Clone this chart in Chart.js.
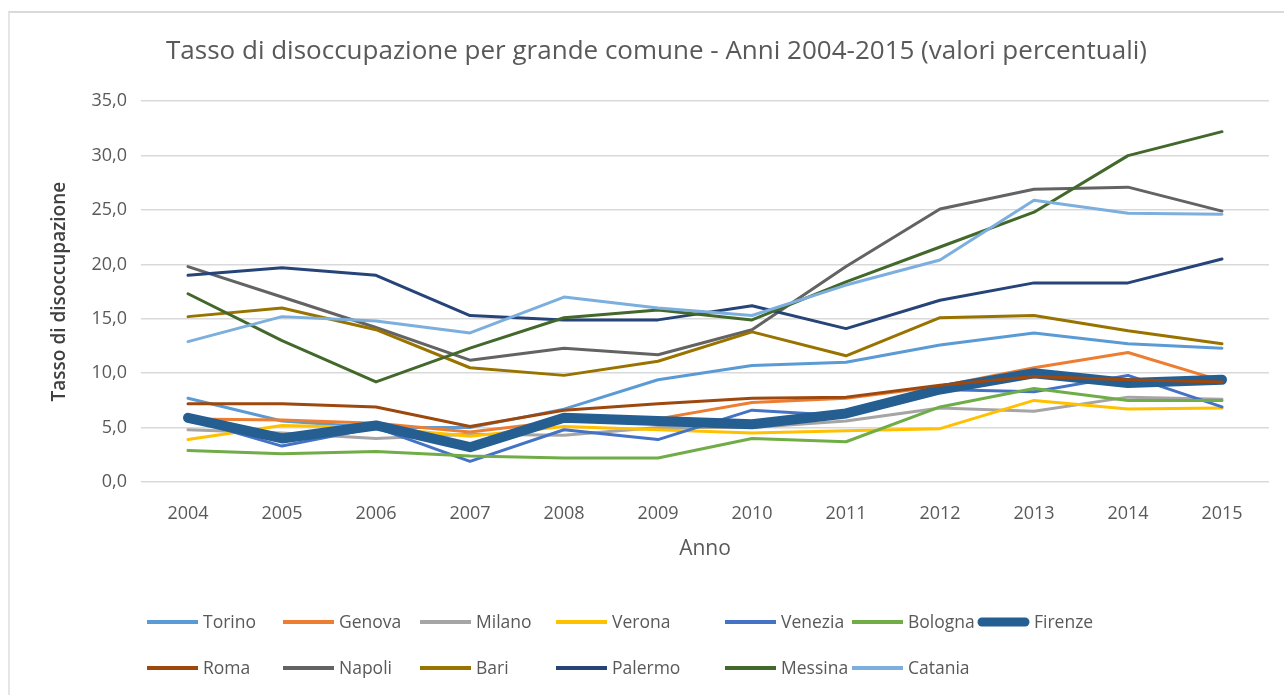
<!DOCTYPE html>
<html>
<head>
<meta charset="utf-8">
<script src="https://cdn.jsdelivr.net/npm/chart.js@4/dist/chart.umd.min.js"></script>
<style>
  html, body { margin: 0; padding: 0; background: #ffffff; }
  #wrap { position: relative; width: 1284px; height: 695px; overflow: hidden; }
  #frame { position: absolute; left: 8px; top: 11px; width: 1280px; height: 690px;
           border-top: 2px solid #D9D9D9; border-left: 2px solid #E6E6E6; pointer-events: none; }
  canvas { position: absolute; left: 0; top: 0; }
</style>
</head>
<body>
<div id="wrap">
  <canvas id="c" width="1284" height="695"></canvas>
  <div id="frame"></div>
</div>
<script>
// ---- Data ----
const years = ['2004','2005','2006','2007','2008','2009','2010','2011','2012','2013','2014','2015'];
const yTickLabels = ['0,0','5,0','10,0','15,0','20,0','25,0','30,0','35,0'];

const torino  = [7.7, 5.6, 5.0, 5.0, 6.7, 9.4, 10.7, 11.0, 12.6, 13.7, 12.7, 12.3];
const genova  = [5.8, 5.7, 5.4, 4.6, 5.6, 5.8, 7.3, 7.7, 8.8, 10.5, 11.9, 9.3];
const milano  = [4.8, 4.5, 4.0, 4.4, 4.3, 5.0, 5.0, 5.6, 6.8, 6.5, 7.8, 7.6];
const verona  = [3.9, 5.2, 5.0, 4.2, 5.1, 4.8, 4.5, 4.7, 4.9, 7.5, 6.7, 6.8];
const venezia = [5.8, 3.3, 5.0, 1.9, 4.8, 3.9, 6.6, 6.1, 8.5, 8.3, 9.8, 6.9];
const bologna = [2.9, 2.6, 2.8, 2.4, 2.2, 2.2, 4.0, 3.7, 6.9, 8.6, 7.5, 7.5];
const firenze = [5.9, 4.0, 5.2, 3.2, 5.9, 5.6, 5.3, 6.3, 8.5, 10.0, 9.1, 9.4];
const roma    = [7.2, 7.2, 6.9, 5.1, 6.6, 7.2, 7.7, 7.8, 8.9, 9.7, 9.4, 9.2];
const napoli  = [19.8, 17.0, 14.2, 11.2, 12.3, 11.7, 14.0, 19.8, 25.1, 26.9, 27.1, 24.9];
const bari    = [15.2, 16.0, 14.0, 10.5, 9.8, 11.1, 13.8, 11.6, 15.1, 15.3, 13.9, 12.7];
const palermo = [19.0, 19.7, 19.0, 15.3, 14.9, 14.9, 16.2, 14.1, 16.7, 18.3, 18.3, 20.5];
const messina = [17.3, 13.0, 9.2, 12.3, 15.1, 15.8, 14.9, 18.4, 21.6, 24.8, 30.0, 32.2];
const catania = [12.9, 15.2, 14.8, 13.7, 17.0, 16.0, 15.3, 18.1, 20.4, 25.9, 24.7, 24.6];

const seriesNames = ['Torino','Genova','Milano','Verona','Venezia','Bologna','Firenze',
                     'Roma','Napoli','Bari','Palermo','Messina','Catania'];
const seriesValues = [torino, genova, milano, verona, venezia, bologna, firenze,
                      roma, napoli, bari, palermo, messina, catania];
const seriesColors = ['#5B9BD5','#ED7D31','#A5A5A5','#FFC000','#4472C4','#70AD47','#255E91',
                      '#9E480E','#636363','#997300','#264478','#43682B','#7CAFDD'];

const TEXT = '#595959';
const FONT = "'Open Sans', 'DejaVu Sans', sans-serif";

const datasets = seriesNames.map((name, i) => {
  const thick = name === 'Firenze';
  return {
    label: name,
    data: seriesValues[i],
    borderColor: seriesColors[i],
    backgroundColor: seriesColors[i],
    borderWidth: thick ? 10 : 3,
    borderCapStyle: 'round',
    borderJoinStyle: 'round',
    pointRadius: 0,
    pointHoverRadius: 0,
    tension: 0,
    fill: false,
    order: seriesNames.length - i,
    legendLineWidth: thick ? 9 : 4
  };
});

// Grid legend drawn under the plot (Excel-like aligned columns)
const gridLegend = {
  id: 'gridLegend',
  afterDraw(chart, args, opts) {
    const ctx = chart.ctx;
    ctx.save();
    ctx.font = opts.font;
    ctx.textBaseline = 'middle';
    ctx.textAlign = 'left';
    chart.data.datasets.forEach((ds, i) => {
      const row = Math.floor(i / opts.perRow);
      const col = i % opts.perRow;
      const x = opts.colX[col];
      const y = opts.rowY[row];
      const round = ds.legendLineWidth > 5;
      ctx.beginPath();
      ctx.strokeStyle = ds.borderColor;
      ctx.lineWidth = ds.legendLineWidth;
      ctx.lineCap = round ? 'round' : 'butt';
      ctx.moveTo(x + (round ? 4 : 0), y);
      ctx.lineTo(x + opts.lineLen - (round ? 4 : 0), y);
      ctx.stroke();
      ctx.fillStyle = opts.color;
      ctx.fillText(ds.label, x + opts.lineLen + opts.gap, y + 1);
    });
    ctx.restore();
  }
};

new Chart(document.getElementById('c'), {
  type: 'line',
  data: { labels: years, datasets },
  plugins: [gridLegend],
  options: {
    responsive: false,
    animation: false,
    events: [],
    layout: { padding: { left: 44, right: 15, top: 0, bottom: 130 } },
    plugins: {
      legend: { display: false },
      tooltip: { enabled: false },
      title: {
        display: true,
        text: 'Tasso di disoccupazione per grande comune - Anni 2004-2015 (valori percentuali)',
        color: TEXT,
        font: { family: FONT, size: 26, weight: 'normal' },
        padding: { top: 36, bottom: 34 }
      },
      gridLegend: {
        perRow: 7,
        colX: [147, 283, 420, 556, 725, 852, 978],
        rowY: [622, 668],
        lineLen: 51,
        gap: 5,
        font: "17.5px " + FONT,
        color: TEXT
      }
    },
    scales: {
      x: {
        type: 'category',
        offset: true,
        grid: { display: false, drawTicks: false },
        border: { display: false },
        ticks: { color: TEXT, font: { family: FONT, size: 18 }, padding: 21, maxRotation: 0 },
        title: { display: true, text: 'Anno', color: TEXT, font: { family: FONT, size: 21 }, padding: { top: 0, bottom: 3 } },
        afterFit(s) { s.height = 83; }
      },
      y: {
        min: 0,
        max: 35,
        ticks: {
          stepSize: 5,
          color: TEXT,
          font: { family: FONT, size: 18 },
          padding: 14,
          callback: (v, idx) => yTickLabels[idx]
        },
        grid: { color: '#D9D9D9', lineWidth: 1.5, drawTicks: false },
        border: { display: false },
        title: { display: true, text: 'Tasso di disoccupazione', color: '#404040',
                 font: { family: FONT, size: 19, weight: '600' }, padding: 4 },
        afterFit(s) { s.width = 97; }
      }
    }
  }
});
</script>
</body>
</html>
